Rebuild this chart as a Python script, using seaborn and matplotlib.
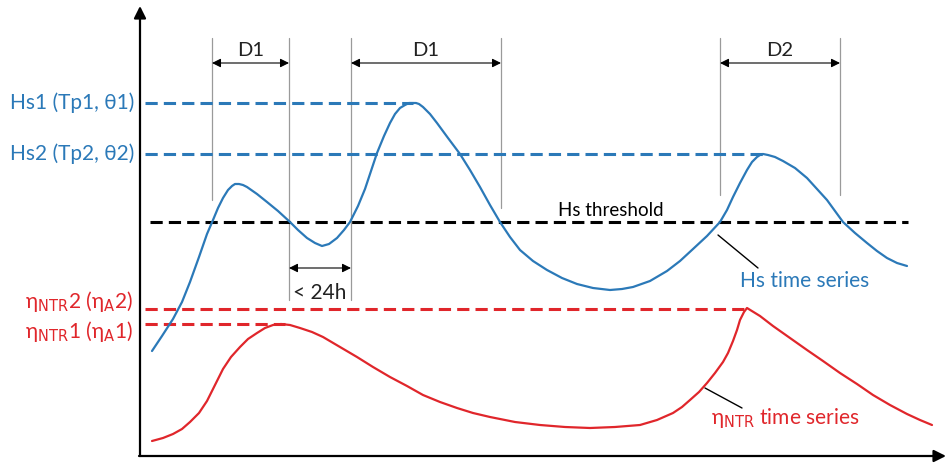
import numpy as np
import matplotlib
matplotlib.use("Agg")
import matplotlib.pyplot as plt
import seaborn as sns

hs_x = [152, 162, 173, 182, 190, 199, 207, 213, 218, 223, 228, 232, 235, 239, 243, 247, 257, 267,
        278, 290, 298, 307, 315, 322, 329, 337, 344, 350, 358, 365, 371, 377, 384, 390, 395, 400,
        405, 409, 412, 416, 419, 423, 430, 437, 448, 460, 470, 480, 490, 500, 510, 520, 533, 547,
        562, 577, 593, 610, 622, 633, 650, 667, 680, 693, 707, 720, 727, 733, 740, 747, 752, 757,
        760, 763, 768, 775, 783, 795, 807, 817, 827, 835, 843, 855, 867, 877, 887, 897, 907]
hs_y = [351, 336, 319, 302, 282, 257, 234, 220, 208, 198, 190, 186, 184, 184, 185, 187, 194, 202,
        211, 222, 230, 238, 243, 246, 244, 238, 230, 222, 206, 189, 171, 153, 136, 123, 114, 108,
        105, 103, 103, 103, 104, 107, 114, 123, 138, 154, 170, 187, 205, 222, 237, 250, 261, 270,
        278, 284, 288, 290, 289, 287, 281, 271, 261, 249, 236, 222, 210, 197, 183, 170, 162, 157,
        155, 154, 155, 157, 161, 168, 178, 189, 200, 211, 222, 233, 243, 251, 258, 263, 266]

eta_x = [152, 163, 173, 182, 190, 199, 207, 215, 223, 231, 240, 248, 257, 265, 273, 281, 290, 300,
         312, 323, 340, 357, 373, 390, 407, 423, 440, 457, 473, 490, 515, 540, 565, 590, 615, 640,
         657, 673, 682, 690, 699, 707, 715, 723, 728, 733, 737, 740, 744, 747, 760, 773, 790, 807,
         823, 840, 857, 873, 890, 907, 920, 932]
eta_y = [441, 438, 434, 429, 422, 413, 401, 385, 369, 357, 347, 339, 333, 328, 325, 324, 325, 328,
         332, 337, 347, 357, 367, 377, 386, 395, 402, 408, 413, 417, 422, 425, 427, 428, 427, 425,
         420, 413, 407, 400, 392, 383, 373, 362, 353, 341, 330, 320, 312, 308, 316, 326, 338, 350,
         361, 373, 384, 395, 405, 414, 420, 425]

# reference levels and event limits
hs1_level, hs2_level = 103, 154
threshold_level = 222
eta2_level, eta1_level = 309, 324
hs1_peak_x, hs2_peak_x = 413, 765
eta2_peak_x, eta1_peak_x = 747, 285
event_x = [212, 289, 351, 501, 720, 840]
event_bottom = [200, 300, 300, 208, 195, 195]
spans = [(212, 289, "D1"), (351, 501, "D1"), (720, 840, "D2")]

blue = "#2b79b8"
red = "#e0262b"
grey = "#9a9a9a"

# ---------------- figure ----------------
sns.set_theme(style="white")
plt.rcParams["font.family"] = ["Lato", "DejaVu Sans"]
plt.rcParams["mathtext.fontset"] = "custom"
plt.rcParams["mathtext.rm"] = "DejaVu Sans"

fig = plt.figure(figsize=(9.46, 4.63), dpi=100)
ax = fig.add_axes([0, 0, 1, 1])
ax.set_xlim(0, 946)
ax.set_ylim(463, 0)
ax.axis("off")

# axes arrows
ax.annotate("", xy=(140, 6), xytext=(140, 456),
            arrowprops=dict(arrowstyle="-|>", color="black", lw=1.6, mutation_scale=18,
                            shrinkA=0, shrinkB=0))
ax.annotate("", xy=(946, 456), xytext=(139, 456),
            arrowprops=dict(arrowstyle="-|>", color="black", lw=1.6, mutation_scale=18,
                            shrinkA=0, shrinkB=0))

# event limits
for x, yb in zip(event_x, event_bottom):
    ax.plot([x, x], [38, yb], color=grey, lw=0.9)
for x0, x1, lab in spans:
    ax.annotate("", xy=(x0, 63), xytext=(x1, 63),
                arrowprops=dict(arrowstyle="<|-|>", color="black", lw=0.8, mutation_scale=13,
                                shrinkA=0, shrinkB=0))
    ax.text((x0 + x1) / 2, 51, lab, ha="center", va="center", fontsize=14.5, color="#222222")
ax.annotate("", xy=(289, 268), xytext=(351, 268),
            arrowprops=dict(arrowstyle="<|-|>", color="black", lw=0.8, mutation_scale=13,
                            shrinkA=0, shrinkB=0))
ax.text(320, 293, "< 24h", ha="center", va="center", fontsize=15, color="#222222")

# dashed levels
dash = (4, 2)
ax.plot([145, hs1_peak_x], [hs1_level] * 2, color=blue, lw=2.2, dashes=dash)
ax.plot([145, hs2_peak_x], [hs2_level] * 2, color=blue, lw=2.2, dashes=dash)
ax.plot([150, 908], [threshold_level] * 2, color="black", lw=2.2, dashes=dash)
ax.plot([145, eta2_peak_x], [eta2_level] * 2, color=red, lw=2.2, dashes=dash)
ax.plot([145, eta1_peak_x], [eta1_level] * 2, color=red, lw=2.2, dashes=dash)

# time series
sns.lineplot(x=hs_x, y=hs_y, ax=ax, color=blue, lw=1.6, sort=False)
sns.lineplot(x=eta_x, y=eta_y, ax=ax, color=red, lw=1.6, sort=False)

# labels
ax.text(134, hs1_level, "Hs1 (Tp1, θ1)", ha="right", va="center", fontsize=15, color=blue)
ax.text(134, hs2_level, "Hs2 (Tp2, θ2)", ha="right", va="center", fontsize=15, color=blue)
ax.text(133, eta2_level - 8, r"η$_{\mathrm{NTR}}$2 (η$_{\mathrm{A}}$2)", ha="right", va="center",
        fontsize=15, color=red)
ax.text(133, eta1_level + 7, r"η$_{\mathrm{NTR}}$1 (η$_{\mathrm{A}}$1)", ha="right", va="center",
        fontsize=15, color=red)
ax.text(611, 211, "Hs threshold", ha="center", va="center", fontsize=13.5, color="black")

ax.plot([718, 758], [235, 268], color="black", lw=1.0)
ax.text(740, 281, "Hs time series", ha="left", va="center", fontsize=15, color=blue)
ax.plot([705, 742], [388, 408], color="black", lw=1.0)
ax.text(711, 418, r"η$_{\mathrm{NTR}}$ time series", ha="left", va="center", fontsize=15, color=red)

fig.savefig("out.png", dpi=100)
